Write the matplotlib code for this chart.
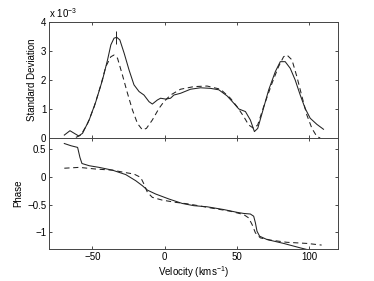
import matplotlib
matplotlib.use("Agg")
import matplotlib.pyplot as plt

plt.rcParams['font.family'] = ['Liberation Sans', 'DejaVu Sans']
plt.rcParams['mathtext.fontset'] = 'custom'
plt.rcParams['mathtext.rm'] = 'Liberation Sans'
plt.rcParams['mathtext.it'] = 'Liberation Sans'

# Standard deviation (units of 1e-3)
sd_solid_v = [-69.4, -65.5, -62.5, -59.5, -56.8, -52.2, -47.6, -43, -39.5, -37.2, -35, -33.1, -31,
              -28, -24.6, -21.2, -17.7, -14.3, -10.8, -8.5, -5, -2.8, 0.7, 4.1, 6.4, 11, 17.9,
              24.8, 31.7, 37.5, 43.2, 47.8, 51.3, 55.9, 59.3, 62.1, 64.4, 67.4, 72, 76.6, 80,
              83.4, 86.9, 90.3, 93.8, 97.2, 100.7, 105.3, 109.9]
sd_solid = [0.10, 0.25, 0.16, 0.07, 0.16, 0.62, 1.25, 2.0, 2.69, 3.21, 3.44, 3.47, 3.38,
            2.92, 2.34, 1.83, 1.6, 1.48, 1.25, 1.17, 1.31, 1.37, 1.34, 1.37, 1.48, 1.54, 1.68,
            1.73, 1.71, 1.66, 1.45, 1.2, 1.0, 0.91, 0.62, 0.22, 0.33, 0.85, 1.66, 2.29, 2.63,
            2.63, 2.4, 2.0, 1.48, 1.02, 0.68, 0.47, 0.30]
sd_dash_v = [-61.4, -57.9, -53.3, -48.7, -44.1, -40.7, -37.2, -35, -32.6, -29.2, -25.7, -22.3,
             -18.8, -15.4, -12.6, -8.5, -3.9, -0.5, 4.1, 11, 20.2, 29.4, 38.6, 45.5, 50.1, 54.7,
             58.1, 61.6, 64.4, 68.5, 74.3, 78.8, 82.3, 84.6, 88.1, 91.5, 95, 98.4, 101.9, 105.3,
             107.6]
sd_dash = [0.02, 0.1, 0.5, 1.08, 1.83, 2.46, 2.8, 2.86, 2.75, 2.17, 1.54, 0.97,
           0.5, 0.28, 0.33, 0.62, 1.02, 1.25, 1.48, 1.68, 1.77, 1.79, 1.68, 1.37, 1.08, 0.74,
           0.45, 0.33, 0.45, 1.08, 1.89, 2.46, 2.8, 2.86, 2.69, 2.11, 1.43, 0.79, 0.33, 0.05,
           0.0]
err_v = [-33.3]
err_y = [3.47]
err_e = [0.22]

# Phase
ph_solid_v = [-69.4, -64.8, -60.2, -58.6, -57.2, -52.2, -45.3, -36.1, -26.9, -20, -15.4, -11.9,
              -6.2, 3, 12.2, 20.2, 29.4, 40.9, 50.1, 54.7, 59.3, 61.6, 62.8, 63.9, 65.7, 70.8,
              82.3, 93.8, 100]
ph_solid = [0.60, 0.56, 0.53, 0.35, 0.24, 0.20, 0.17, 0.12, 0.04, -0.07, -0.16, -0.24,
            -0.31, -0.40, -0.48, -0.52, -0.54, -0.59, -0.64, -0.66, -0.67, -0.71, -0.83, -0.98,
            -1.07, -1.13, -1.2, -1.28, -1.32]
ph_dash_v = [-69.4, -59.1, -47.6, -36.1, -28, -21.2, -16.6, -14.3, -11.9, -8.5, -1.6, 7.6, 16.8,
             31.7, 45.5, 54.7, 58.1, 60.5, 62.8, 66.2, 73.1, 84.6, 98.4, 108.6]
ph_dash = [0.155, 0.17, 0.14, 0.12, 0.08, 0.05, -0.01, -0.13, -0.28, -0.37, -0.42, -0.46, -0.49,
           -0.56, -0.62, -0.68, -0.74, -0.86, -1.01, -1.10, -1.14, -1.18, -1.2, -1.23]

xticks = [-50, 0, 50, 100]

fig = plt.figure(figsize=(3.74, 2.81), dpi=100)
ax1 = fig.add_axes([0.131, 0.509, 0.773, 0.413])
ax2 = fig.add_axes([0.131, 0.114, 0.773, 0.395])

lw = 0.75
lc = '#222222'
ax1.plot(sd_solid_v, sd_solid, color=lc, lw=lw)
ax1.plot(sd_dash_v, sd_dash, color=lc, lw=lw, ls=(0, (5, 3.5)))
ax1.errorbar(err_v, err_y, yerr=err_e, fmt='none', ecolor=lc, elinewidth=0.7, capsize=0)
ax1.set_xlim(-80, 120)
ax1.set_ylim(0, 4)
ax1.set_yticks([0, 1, 2, 3, 4])
ax1.set_xticks(xticks)
ax1.set_xticklabels([])
ax1.set_ylabel('Standard Deviation', fontsize=7, labelpad=3)
ax1.text(0.0, 1.015, r'x 10$^{-3}$', transform=ax1.transAxes, fontsize=7, ha='left', va='bottom')

ax2.plot(ph_solid_v, ph_solid, color=lc, lw=lw)
ax2.plot(ph_dash_v, ph_dash, color=lc, lw=lw, ls=(0, (5, 3.5)))
ax2.set_xlim(-80, 120)
ax2.set_ylim(-1.3, 0.7)
ax2.set_yticks([-1, -0.5, 0, 0.5])
ax2.set_yticklabels(['\u22121', '\u22120.5', '0', '0.5'])
ax2.set_xticks(xticks)
ax2.set_xticklabels(['\u221250', '0', '50', '100'])
ax2.set_ylabel('Phase', fontsize=7, labelpad=3)
ax2.set_xlabel(r'Velocity (kms$^{-1}$)', fontsize=7, labelpad=2)

for ax in (ax1, ax2):
    ax.tick_params(direction='in', length=2.5, width=0.5, labelsize=7, top=True, right=True, pad=2)
    for s in ax.spines.values():
        s.set_linewidth(0.7)
        s.set_color('#444444')

fig.savefig('out.png', dpi=100)
